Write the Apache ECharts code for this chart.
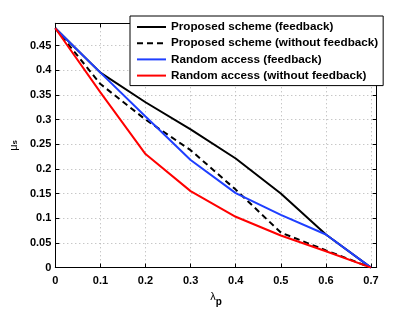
<!DOCTYPE html>
<html>
<head>
<meta charset="utf-8">
<script src="https://cdn.jsdelivr.net/npm/echarts@6/dist/echarts.min.js"></script>
<style>
html,body{margin:0;padding:0;background:#fff;}
#c{width:415px;height:312px;}
</style>
</head>
<body>
<div id="c"></div>
<script>
var lambdaP = [0, 0.1, 0.2, 0.3, 0.4, 0.5, 0.6, 0.7];
var proposedFeedback = [0.485, 0.395, 0.335, 0.280, 0.221, 0.150, 0.067, 0];
var proposedNoFeedback = [0.485, 0.372, 0.300, 0.238, 0.158, 0.071, 0.035, 0];
var randomFeedback = [0.485, 0.395, 0.306, 0.218, 0.151, 0.107, 0.067, 0];
var randomNoFeedback = [0.485, 0.355, 0.230, 0.155, 0.103, 0.065, 0.033, 0];
var seriesNames = [
  'Proposed scheme (feedback)',
  'Proposed scheme (without feedback)',
  'Random access (feedback)',
  'Random access (without feedback)'
];

function pairs(ys) { return lambdaP.map(function (x, i) { return [x, ys[i]]; }); }

var FONT = '"Liberation Sans", Arial, sans-serif';
var gridLine = { show: true, lineStyle: { color: '#b0b0b0', type: [1, 3], width: 1 } };
var tickIn = { show: true, inside: true, length: 4, lineStyle: { color: '#000' } };

var chart = echarts.init(document.getElementById('c'), null, { renderer: 'canvas' });
chart.setOption({
  animation: false,
  backgroundColor: '#fff',
  grid: { left: 54, right: 38.3, top: 23.3, bottom: 38.7, containLabel: false },
  xAxis: [{
    type: 'value', min: 0, max: 0.7126, interval: 0.1,
    axisLine: { show: true, onZero: false, lineStyle: { color: '#000', width: 1 } },
    axisTick: tickIn,
    splitLine: gridLine,
    axisLabel: { color: '#000', fontFamily: FONT, fontWeight: 'bold', fontSize: 11, margin: 8, showMaxLabel: false,
      formatter: function (v) { return Math.abs(v * 10 - Math.round(v * 10)) < 1e-6 ? String(+v.toFixed(1)) : ''; } },
    name: '{l|λ}{p|p}', nameLocation: 'middle', nameGap: 14,
    nameTextStyle: { rich: {
      l: { fontFamily: FONT, fontSize: 11, color: '#000' },
      p: { fontFamily: FONT, fontSize: 10, fontWeight: 'bold', color: '#000', padding: [10, 0, 0, 0] }
    } }
  }, {
    type: 'value', position: 'top', min: 0, max: 0.7126, interval: 0.1,
    axisLine: { show: true, onZero: false, lineStyle: { color: '#000', width: 1 } },
    axisTick: tickIn, axisLabel: { show: false }, splitLine: { show: false }
  }],
  yAxis: [{
    type: 'value', min: 0, max: 0.495, interval: 0.05,
    axisLine: { show: true, onZero: false, lineStyle: { color: '#000', width: 1 } },
    axisTick: tickIn,
    splitLine: gridLine,
    axisLabel: { color: '#000', fontFamily: FONT, fontWeight: 'bold', fontSize: 11, margin: 4, showMaxLabel: false,
      formatter: function (v) { return String(+v.toFixed(2)); } },
    name: '{m|μ}{s|s}', nameLocation: 'middle', nameRotate: 90, nameGap: 36,
    nameTextStyle: { rich: {
      m: { fontFamily: FONT, fontSize: 11, color: '#000' },
      s: { fontFamily: FONT, fontSize: 8, fontWeight: 'bold', color: '#000', verticalAlign: 'bottom' }
    } }
  }, {
    type: 'value', position: 'right', min: 0, max: 0.495, interval: 0.05,
    axisLine: { show: true, onZero: false, lineStyle: { color: '#000', width: 1 } },
    axisTick: tickIn, axisLabel: { show: false }, splitLine: { show: false }
  }],
  legend: {
    show: true, type: 'plain',
    orient: 'vertical', left: 130, top: 16,
    padding: [4, 5, 3, 6], itemGap: 2.2, itemWidth: 29, itemHeight: 14,
    backgroundColor: '#fff', borderColor: '#000', borderWidth: 1, borderRadius: 0,
    itemStyle: { opacity: 0 },
    textStyle: { color: '#000', fontFamily: FONT, fontWeight: 'bold', fontSize: 11.7, lineHeight: 14 },
    data: seriesNames
  },
  series: [
    { name: seriesNames[0], type: 'line', data: pairs(proposedFeedback), symbol: 'none',
      lineStyle: { color: '#000', width: 2 }, itemStyle: { color: '#000' }, z: 4 },
    { name: seriesNames[1], type: 'line', data: pairs(proposedNoFeedback), symbol: 'none',
      lineStyle: { color: '#000', width: 2, type: [6, 4] }, itemStyle: { color: '#000' }, z: 3 },
    { name: seriesNames[2], type: 'line', data: pairs(randomFeedback), symbol: 'none',
      lineStyle: { color: '#1f3fff', width: 2 }, itemStyle: { color: '#1f3fff' }, z: 5 },
    { name: seriesNames[3], type: 'line', data: pairs(randomNoFeedback), symbol: 'none',
      lineStyle: { color: '#ff0000', width: 2 }, itemStyle: { color: '#ff0000' }, z: 5 }
  ]
});
</script>
</body>
</html>
